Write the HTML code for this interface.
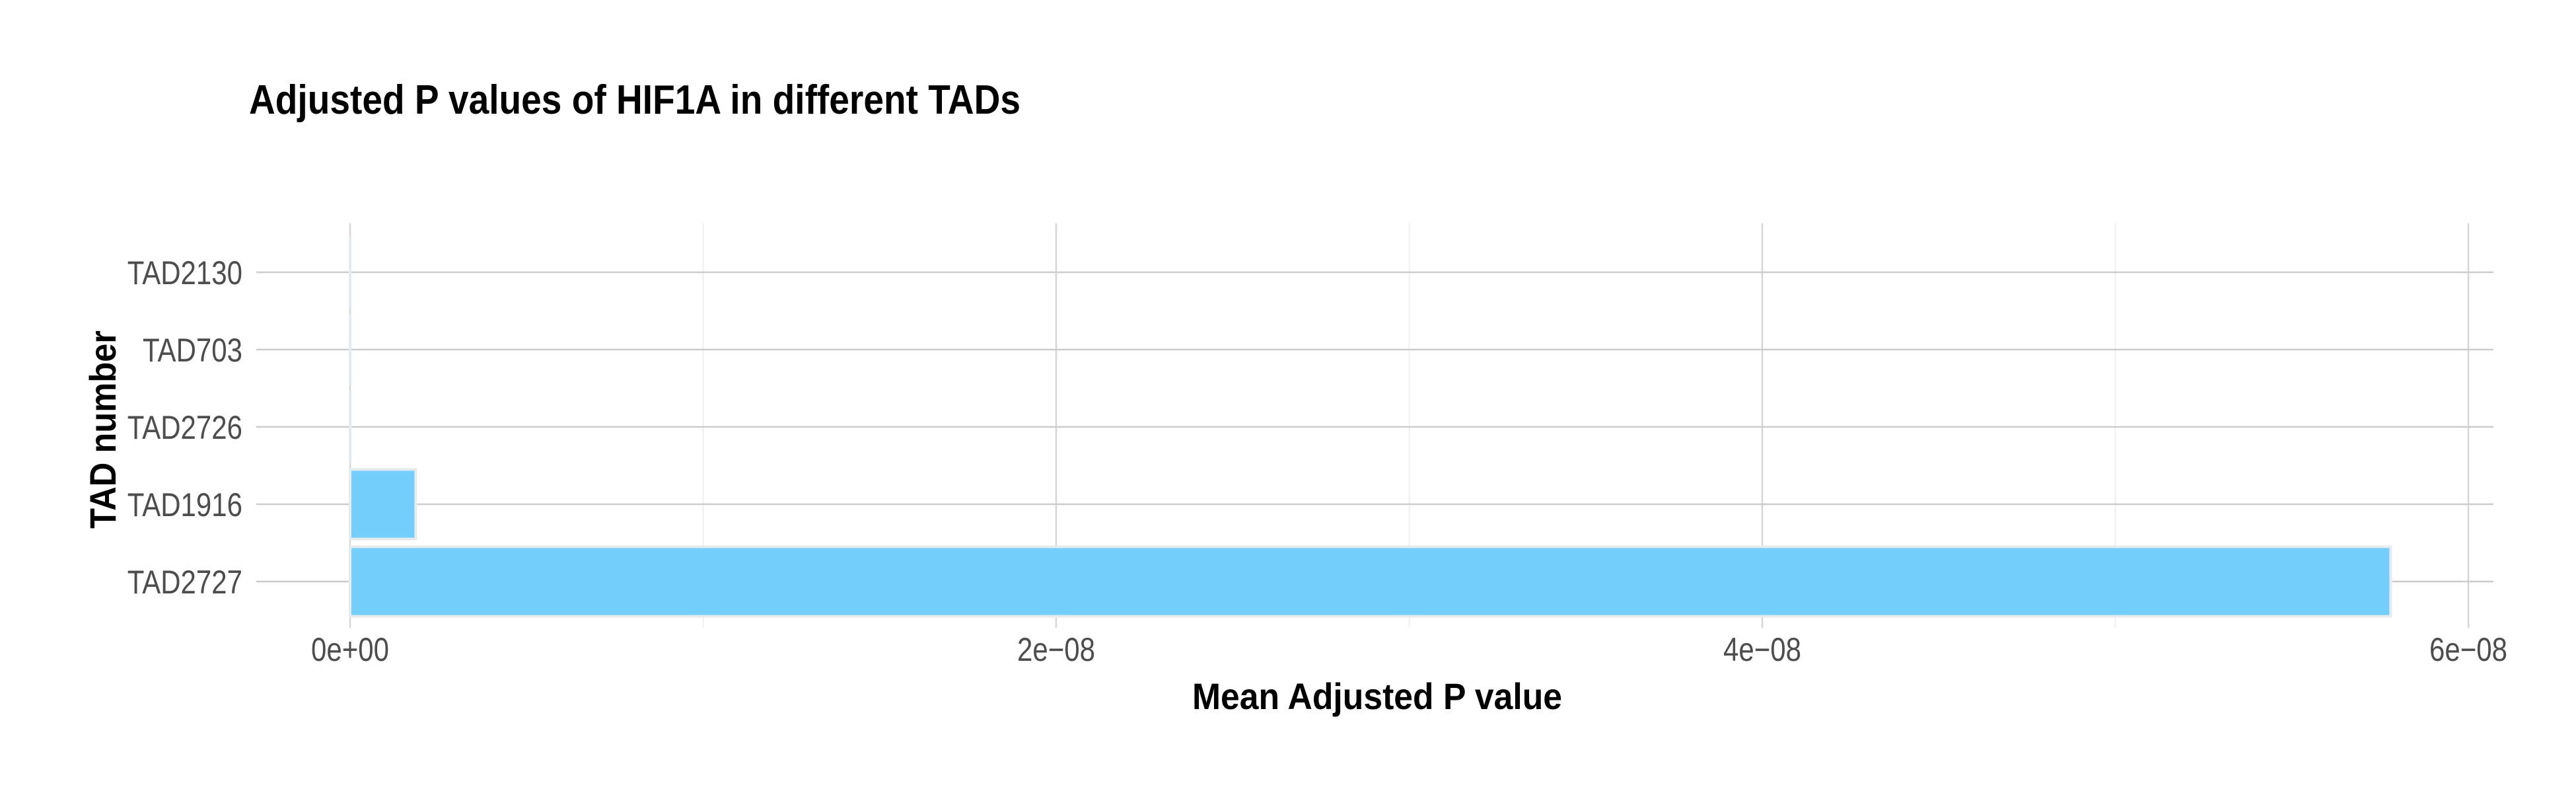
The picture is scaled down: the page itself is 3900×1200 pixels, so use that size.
<!DOCTYPE html>
<html><head><meta charset="utf-8"><style>
html,body{margin:0;padding:0;background:#fff;}
svg{display:block;font-family:"Liberation Sans Narrow","Liberation Sans",sans-serif;}
</style></head><body>
<svg id="chart" width="3900" height="1200" viewBox="0 0 3900 1200" xmlns="http://www.w3.org/2000/svg">
<rect width="3900" height="1200" fill="#fff"/>
<g id="grid"></g>
<g id="bars"></g>
<g id="labels"></g>
<text x="377" y="172" font-size="62" font-weight="bold" fill="#000" textLength="1168" lengthAdjust="spacingAndGlyphs">Adjusted P values of HIF1A in different TADs</text>
<text x="2085" y="1073" font-size="56" font-weight="bold" text-anchor="middle" fill="#000" textLength="560" lengthAdjust="spacingAndGlyphs">Mean Adjusted P value</text>
<text transform="translate(175,650) rotate(-90)" font-size="56" font-weight="bold" text-anchor="middle" fill="#000" textLength="300" lengthAdjust="spacingAndGlyphs">TAD number</text>
</svg>
<script>
const categories = ["TAD2130","TAD703","TAD2726","TAD1916","TAD2727"];
const values = [2e-12, 3e-12, 5e-12, 1.86e-9, 5.78e-8];
const xTicks = [0, 2e-8, 4e-8, 6e-8];
const xTickLabels = ["0e+00","2e\u221208","4e\u221208","6e\u221208"];
const xMinor = [1e-8, 3e-8, 5e-8];

const NS = "http://www.w3.org/2000/svg";
const panel = {left:388, right:3775, top:338, bottom:950};
const x0 = 530, pxPerUnit = 1069/2e-8;
function xScale(v){ return x0 + v*pxPerUnit; }
const yTop = 412, yStep = 117;
function yScale(i){ return yTop + i*yStep; }

function mk(tag, attrs, parent){
  const el = document.createElementNS(NS, tag);
  for (const k in attrs) el.setAttribute(k, attrs[k]);
  parent.appendChild(el);
  return el;
}
function narrow(t){
  const w = t.getComputedTextLength();
  t.setAttribute('textLength', (w*0.84).toFixed(1));
  t.setAttribute('lengthAdjust', 'spacingAndGlyphs');
}
const grid = document.getElementById('grid');
const bars = document.getElementById('bars');
const labels = document.getElementById('labels');

xMinor.forEach(v => {
  const l = mk('line', {x1:xScale(v), x2:xScale(v), y1:panel.top, y2:panel.bottom, stroke:'#ececec', 'stroke-width':1.5}, grid);
  
  
});
xTicks.forEach((v, i) => {
  const l = mk('line', {x1:xScale(v), x2:xScale(v), y1:panel.top, y2:panel.bottom, stroke:'#d6d6d6', 'stroke-width':2.5}, grid);
  
  
  const t = mk('text', {x:xScale(v), y:1000, 'font-size':50, fill:'#4d4d4d', 'text-anchor':'middle'}, labels);
  t.textContent = xTickLabels[i];
  
  
  narrow(t);
});
categories.forEach((c, i) => {
  const y = yScale(i);
  const l = mk('line', {x1:panel.left, x2:panel.right, y1:y, y2:y, stroke:'#cccccc', 'stroke-width':2.5}, grid);
  
  
  const t = mk('text', {x:367, y:y+18, 'font-size':50, fill:'#4d4d4d', 'text-anchor':'end'}, labels);
  t.textContent = c;
  
  
  narrow(t);
  const h = yStep*0.9;
  const w = Math.max(xScale(values[i]) - x0, 0);
  const r = mk('rect', {x:x0, y:y-h/2, width:w, height:h, fill:'#74cffd', stroke:'#e6ebef', 'stroke-width':4}, bars);
  
  
});
</script>
</body></html>
